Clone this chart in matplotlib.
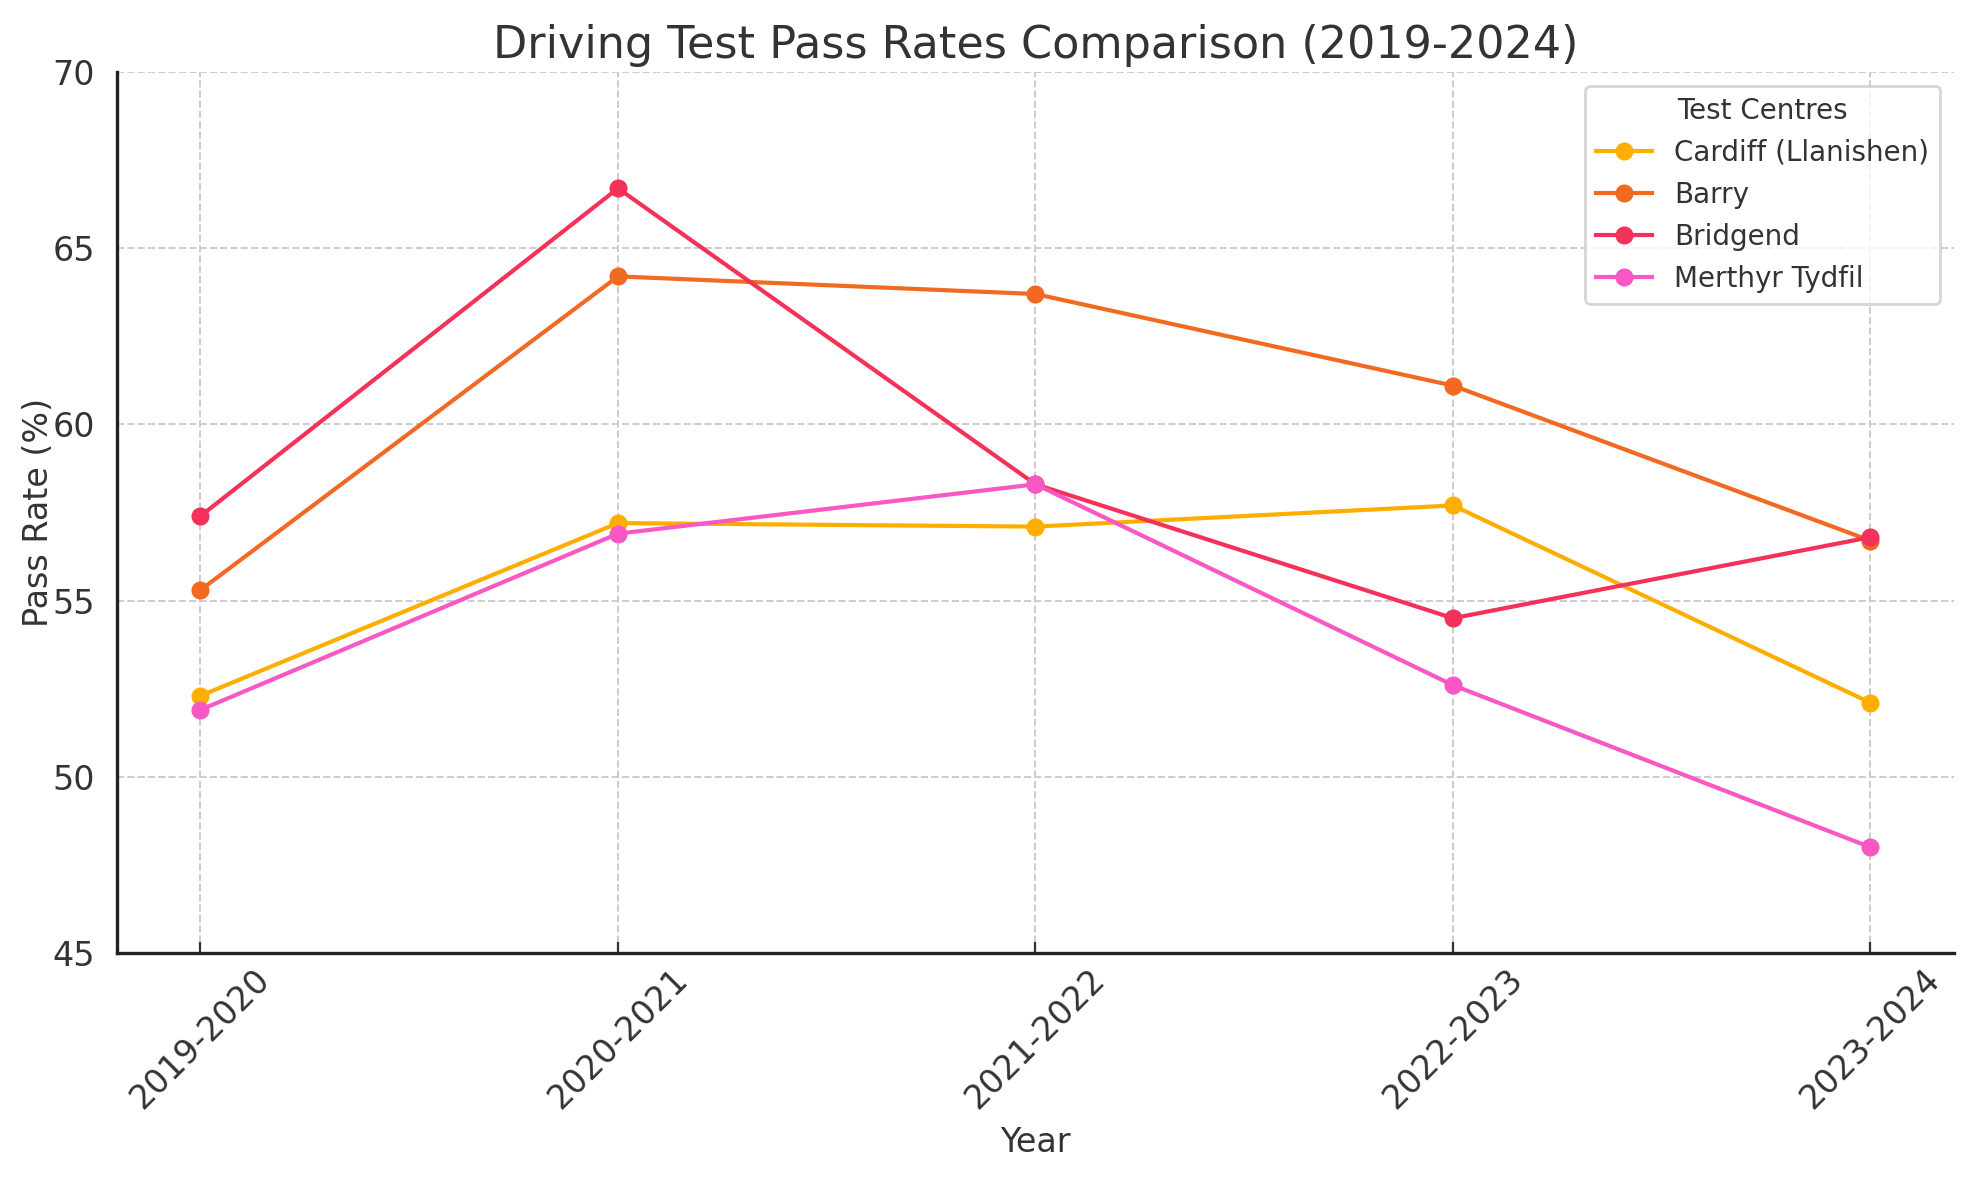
import matplotlib
matplotlib.use("Agg")
import matplotlib.pyplot as plt

years = ["2019-2020", "2020-2021", "2021-2022", "2022-2023", "2023-2024"]
cardiff = [52.3, 57.2, 57.1, 57.7, 52.1]
barry = [55.3, 64.2, 63.7, 61.1, 56.7]
bridgend = [57.4, 66.7, 58.3, 54.5, 56.8]
merthyr = [51.9, 56.9, 58.3, 52.6, 48.0]

series_names = ["Cardiff (Llanishen)", "Barry", "Bridgend", "Merthyr Tydfil"]
series_values = [cardiff, barry, bridgend, merthyr]
colors = ["#FFAE00", "#F26A22", "#F43158", "#F857C4"]

plt.rcParams["font.family"] = ["DejaVu Sans"]
text_color = "#333333"

fig = plt.figure(figsize=(9.87, 5.9), dpi=200)
ax = fig.add_axes([117 / 1974, 1 - 953 / 1180, (1954 - 117) / 1974, (953 - 72) / 1180])

x = list(range(len(years)))
for name, vals, c in zip(series_names, series_values, colors):
    ax.plot(x, vals, marker="o", color=c, lw=1.5, ms=5.5, label=name)

ax.set_ylim(45, 70)
ax.set_yticks([45, 50, 55, 60, 65, 70])
ax.set_xticks(x)
ax.set_xticklabels(years, rotation=45, fontsize=12, color=text_color)
ax.tick_params(axis="y", labelsize=12, labelcolor=text_color, length=0, pad=8)
ax.tick_params(axis="x", direction="in", length=4, color=text_color)

ax.grid(True, linestyle="--", color="#cccccc", linewidth=0.7)
ax.set_axisbelow(True)
for s in ["top", "right"]:
    ax.spines[s].set_visible(False)
for s in ["left", "bottom"]:
    ax.spines[s].set_color("#222222")
    ax.spines[s].set_linewidth(1.2)

ax.set_title("Driving Test Pass Rates Comparison (2019-2024)", fontsize=16, color=text_color, pad=5)
ax.set_xlabel("Year", fontsize=12, color=text_color)
ax.set_ylabel("Pass Rate (%)", fontsize=12, color=text_color, labelpad=-1)

leg = ax.legend(title="Test Centres", loc="upper right", fontsize=10, title_fontsize=10,
                frameon=True, framealpha=0.8, edgecolor="#cccccc")
for t in leg.get_texts():
    t.set_color(text_color)
leg.get_title().set_color(text_color)

fig.savefig("out.png", dpi=200)
